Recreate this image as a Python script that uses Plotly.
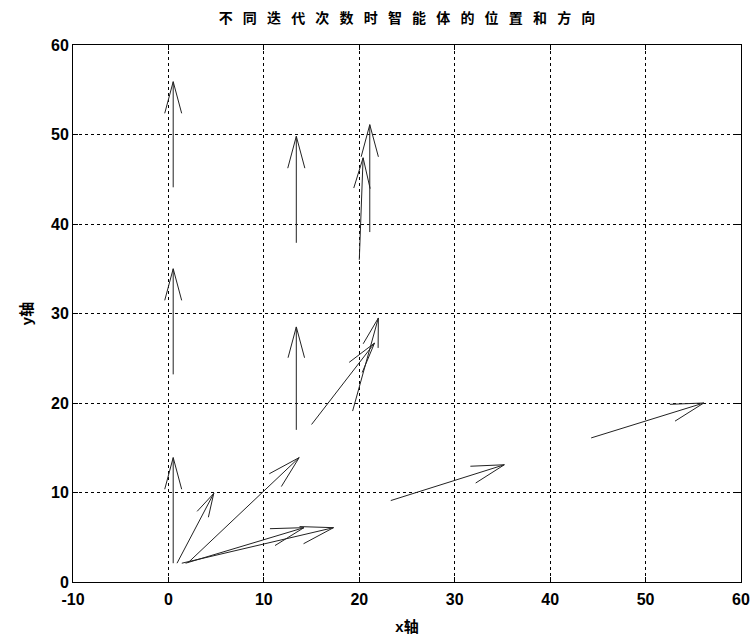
import math
import plotly.graph_objects as go

# Arrow data: start positions (x, y) and vectors (u, v) for 5 agents x 3 iterations
arrow_x = [0.5, 0.9, 2.1, 1.4, 1.8, 0.5, 13.4, 15.0, 19.3, 23.3, 0.5, 13.4, 20.0, 21.1, 44.3]
arrow_y = [2.1, 2.1, 2.2, 2.1, 2.1, 23.2, 17.0, 17.6, 19.1, 9.1, 44.1, 37.9, 36.0, 39.1, 16.1]
arrow_u = [0.0, 3.85, 11.6, 15.9, 12.4, 0.0, 0.0, 6.6, 2.7, 11.9, 0.0, 0.0, 0.4, 0.0, 11.8]
arrow_v = [11.8, 7.8, 11.7, 3.97, 3.97, 11.8, 11.5, 9.1, 10.4, 4.0, 11.8, 11.9, 11.4, 12.0, 3.9]

x_ticks = [-10, 0, 10, 20, 30, 40, 50, 60]
y_ticks = [0, 10, 20, 30, 40, 50, 60]
x_range = [-10, 60]
y_range = [0, 60]

title_text = "\u2002 ".join(list("不同迭代次数时智能体的位置和方向"))
x_title = "x轴"
y_title = "y轴"

W, H = 751, 637
ML, MR, MT, MB = 73, 10, 45, 55
pw = W - ML - MR
ph = H - MT - MB
sx = pw / (x_range[1] - x_range[0])
sy = ph / (y_range[1] - y_range[0])

# Build line segments (shaft + two barbs) for each arrow
lx, ly = [], []
ang = math.radians(15)
for x0, y0, u, v in zip(arrow_x, arrow_y, arrow_u, arrow_v):
    x1, y1 = x0 + u, y0 + v
    dx, dy = u * sx, v * sy
    L = math.hypot(dx, dy)
    head = min(0.31 * L, 34)
    bx, by = -dx / L, -dy / L
    barbs = []
    for s in (1, -1):
        c, sn = math.cos(s * ang), math.sin(s * ang)
        rx = bx * c - by * sn
        ry = bx * sn + by * c
        barbs.append((x1 + head * rx / sx, y1 + head * ry / sy))
    lx += [x0, x1, None, barbs[0][0], x1, barbs[1][0], None]
    ly += [y0, y1, None, barbs[0][1], y1, barbs[1][1], None]

fig = go.Figure()
fig.add_trace(go.Scatter(x=lx, y=ly, mode="lines",
                         line=dict(color="#222222", width=1),
                         hoverinfo="skip", showlegend=False))

tick_font = dict(family="Liberation Sans, Arial, sans-serif", size=16, color="black", weight="bold")
axis_common = dict(
    showgrid=True, gridcolor="black", gridwidth=0.6, griddash="3px,3px",
    ticks="inside", ticklen=5, tickcolor="black", tickwidth=1,
    showline=True, linecolor="black", linewidth=1, mirror="allticks",
    zeroline=False, tickfont=tick_font, automargin=False,
)

fig.update_layout(
    width=W, height=H,
    margin=dict(l=ML, r=MR, t=MT, b=MB, autoexpand=False),
    paper_bgcolor="white", plot_bgcolor="white",
    title=dict(text=title_text, x=(ML + pw / 2) / W, xanchor="center",
               y=1 - 18 / H, yanchor="middle",
               font=dict(family="Noto Sans CJK SC", size=14, color="black", weight="bold")),
    xaxis=dict(range=x_range, tickvals=x_ticks, ticktext=[str(t) for t in x_ticks],
               ticklabelstandoff=3,
               title=dict(text=x_title, standoff=14,
                          font=dict(family="Liberation Sans, Noto Sans CJK SC", size=15, color="black", weight="bold")),
               **axis_common),
    yaxis=dict(range=y_range, tickvals=y_ticks, ticktext=[str(t) for t in y_ticks],
               title=dict(text=y_title, standoff=14,
                          font=dict(family="Liberation Sans, Noto Sans CJK SC", size=15, color="black", weight="bold")),
               **axis_common),
)

fig.write_html("out.html")
